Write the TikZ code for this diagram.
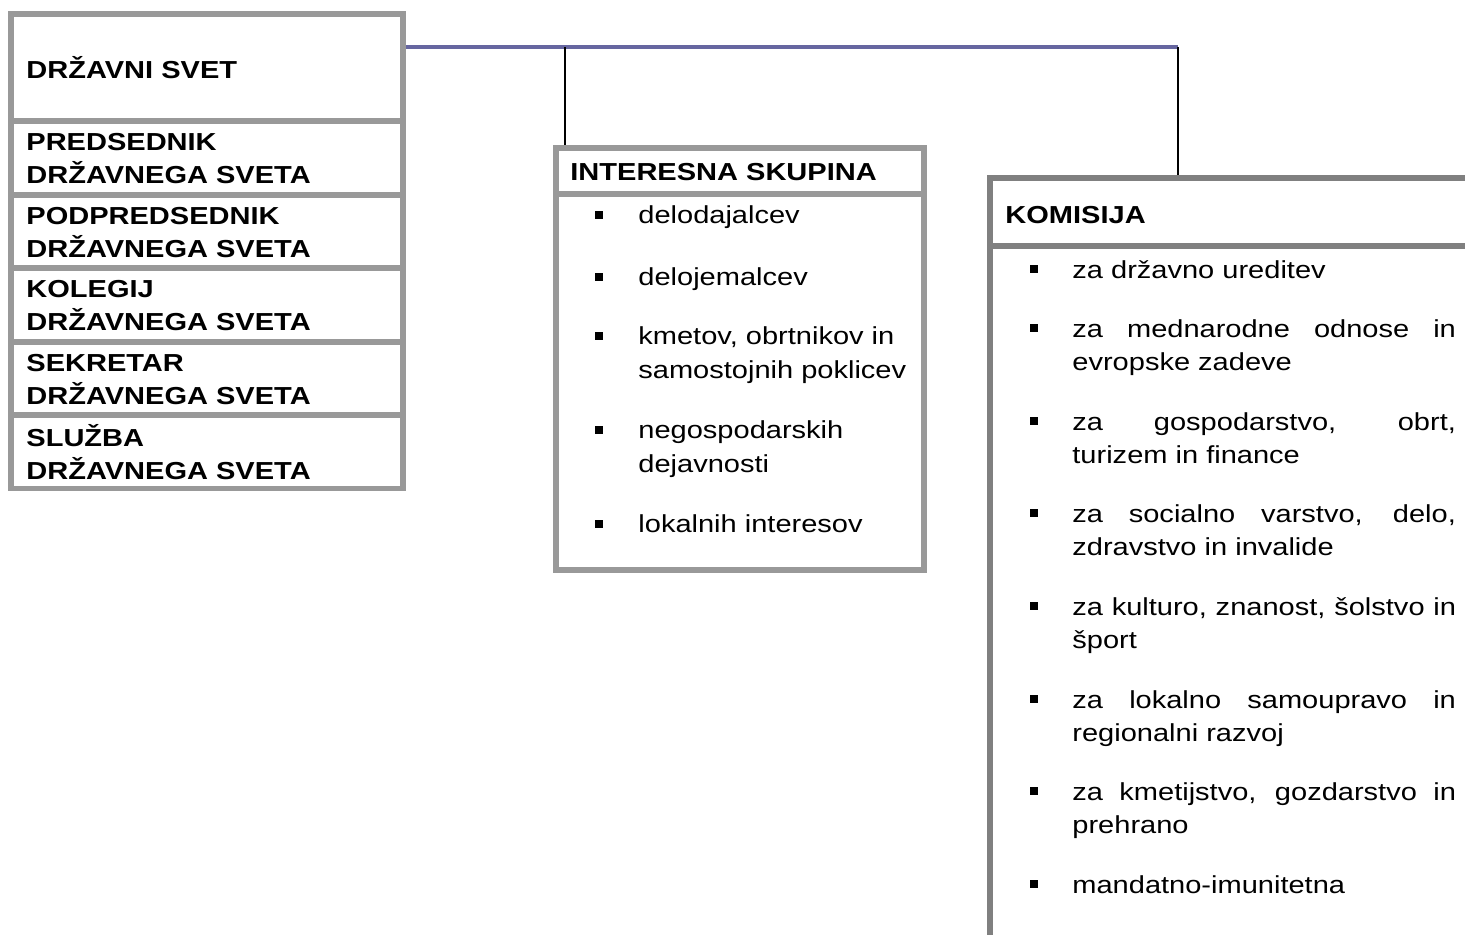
\documentclass[tikz,border=0pt]{standalone}
\usepackage{fontspec}
\setmainfont{Liberation Sans}
\hyphenpenalty=10000
\definecolor{boxgray}{RGB}{153,153,153}
\definecolor{komgray}{RGB}{128,128,128}
\definecolor{busblue}{RGB}{102,102,160}
\def\bodyfont{\fontsize{14}{19.3}\selectfont}
\def\headfont{\fontsize{14}{18.7}\selectfont\bfseries}
\tikzstyle{leftrow}=[draw=boxgray,line width=3.4pt,rectangle,
                     minimum width=7.84cm,minimum height=1.47cm]
\tikzstyle{intbox}=[draw=boxgray,line width=3.1pt,rectangle,minimum width=7.36cm]
\tikzstyle{kombox}=[draw=komgray,line width=3.4pt,rectangle,minimum width=10.2cm]
\tikzstyle{head}=[anchor=base west,inner sep=0pt,xscale=1.18,font=\headfont,align=left]
\tikzstyle{item}=[anchor=base west,inner sep=0pt,xscale=1.18,font=\bodyfont,align=left]
\tikzstyle{kitem}=[item,text width=185pt,align=justify]
\tikzstyle{bus}=[color=busblue,line width=2.3pt]
\tikzstyle{tapline}=[color=black,line width=0.8pt]

\begin{document}
\begin{tikzpicture}[x=0.02cm,y=-0.02cm]
  \clip (0,0) rectangle (1465,934);

  % Left column (two-line labels sit on their last baseline)
  \node[leftrow,minimum height=2.15cm] (svet) at (207,67.25) {};
  \node[leftrow] (pred) at (207,157.75) {};
  \node[leftrow] (podpred) at (207,231.25) {};
  \node[leftrow] (kolegij) at (207,304.75) {};
  \node[leftrow] (sekretar) at (207,378.25) {};
  \node[leftrow] (sluzba) at (207,451.75) {};

  \node[head] (svett) at (26,78) {DRŽAVNI SVET};
  \node[head] (predt) at (26,183) {PREDSEDNIK\\DRŽAVNEGA SVETA};
  \node[head] (podpredt) at (26,257) {PODPREDSEDNIK\\DRŽAVNEGA SVETA};
  \node[head] (kolegijt) at (26,330) {KOLEGIJ\\DRŽAVNEGA SVETA};
  \node[head] (sekretart) at (26,404) {SEKRETAR\\DRŽAVNEGA SVETA};
  \node[head] (sluzbat) at (26,479) {SLUŽBA\\DRŽAVNEGA SVETA};

  % Interest groups
  \node[intbox,minimum height=0.92cm] (interesna) at (740,171) {};
  \node[intbox,minimum height=7.52cm] (intlist) at (740,382) {};

  \node[head] (interesnat) at (570,180) {INTERESNA SKUPINA};
  \node[item] (int1) at (638,223) {delodajalcev};
  \node[item] (int2) at (638,285) {delojemalcev};
  \node[item] (int3) at (638,378) {kmetov, obrtnikov in\\samostojnih poklicev};
  \node[item] (int4) at (638,472) {negospodarskih\\dejavnosti};
  \node[item] (int5) at (638,532) {lokalnih interesov};
  \foreach \y in {223,285,344,438,532}
    \fill (595,\y-12) rectangle ++(8,8);

  % Commissions
  \node[kombox,minimum height=1.36cm] (komisija) at (1245,212) {};
  \node[kombox,minimum height=14.28cm] (komlist) at (1245,603) {};

  \node[head] (komisijat) at (1005,223) {KOMISIJA};
  \node[kitem] (kom1) at (1072,278) {za državno ureditev};
  \node[kitem] (kom2) at (1072,337) {za mednarodne odnose in\linebreak evropske zadeve};
  \node[kitem] (kom3) at (1072,430) {za gospodarstvo, obrt,\linebreak turizem in finance};
  \node[kitem] (kom4) at (1072,522) {za socialno varstvo, delo,\linebreak zdravstvo in invalide};
  \node[kitem] (kom5) at (1072,615) {za kulturo, znanost, šolstvo in\linebreak šport};
  \node[kitem] (kom6) at (1072,708) {za lokalno samoupravo in\linebreak regionalni razvoj};
  \node[kitem] (kom7) at (1072,800) {za kmetijstvo, gozdarstvo in\linebreak prehrano};
  \node[kitem] (kom8) at (1072,893) {mandatno-imunitetna};
  \foreach \y in {278,337,430,522,615,708,800,893}
    \fill (1030,\y-13) rectangle ++(8,8);

  % Connectors
  \coordinate (busend) at (1178,47);
  \coordinate (tap) at (565,47);
  \draw[bus] (svet.east |- busend) -- (busend);
  \draw[tapline] (tap) -- (tap |- interesna.north);
  \draw[tapline] (busend) -- (busend |- komisija.north);

\end{tikzpicture}
\end{document}
